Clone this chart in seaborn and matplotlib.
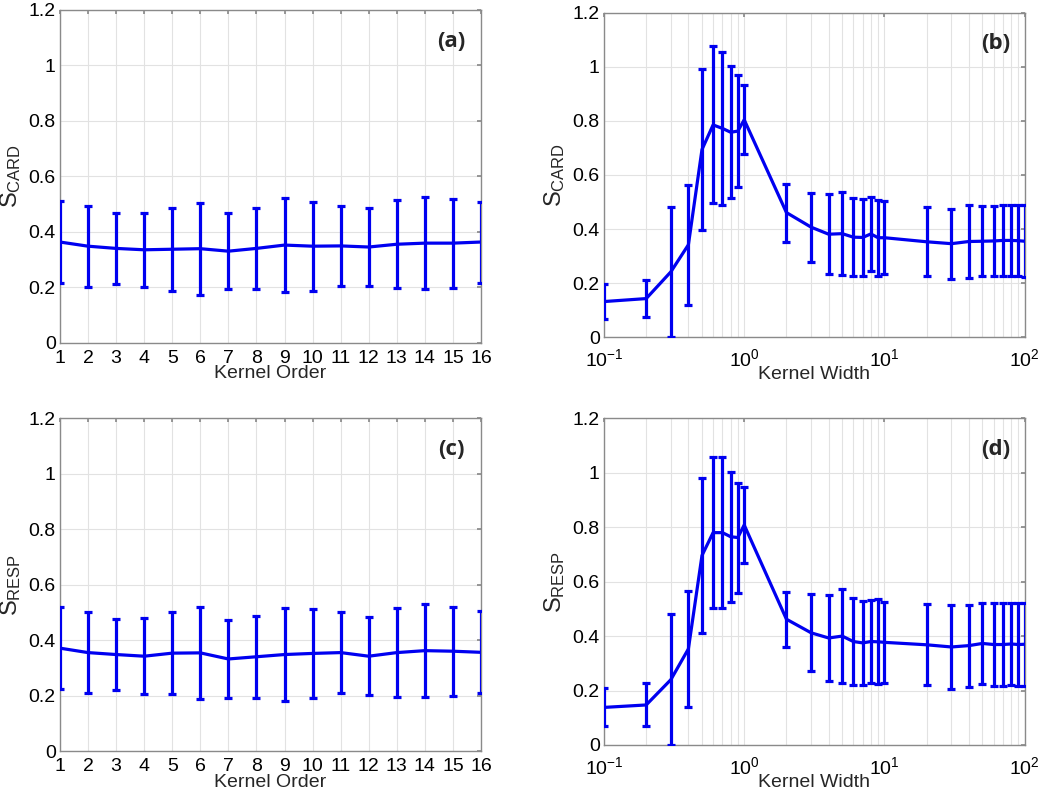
import numpy as np
import pandas as pd
import seaborn as sns
import matplotlib.pyplot as plt
from matplotlib.ticker import FuncFormatter, LogLocator, NullFormatter

# datos: orden del kernel (paneles a, c)
orden = list(range(1, 17))
card_orden_media = [0.363, 0.348, 0.340, 0.335, 0.337, 0.339, 0.330, 0.340,
                    0.352, 0.348, 0.349, 0.345, 0.355, 0.359, 0.359, 0.363]
card_orden_std = [0.148, 0.146, 0.128, 0.134, 0.149, 0.166, 0.138, 0.147,
                  0.168, 0.160, 0.144, 0.140, 0.159, 0.165, 0.160, 0.146]
resp_orden_media = [0.371, 0.355, 0.348, 0.342, 0.353, 0.354, 0.332, 0.340,
                    0.348, 0.352, 0.355, 0.342, 0.355, 0.362, 0.360, 0.356]
resp_orden_std = [0.149, 0.145, 0.128, 0.137, 0.149, 0.165, 0.139, 0.148,
                  0.168, 0.160, 0.145, 0.141, 0.160, 0.167, 0.160, 0.148]

# datos: ancho del kernel (paneles b, d)
ancho = [0.1, 0.2, 0.3, 0.4, 0.5, 0.6, 0.7, 0.8, 0.9, 1,
         2, 3, 4, 5, 6, 7, 8, 9, 10,
         20, 30, 40, 50, 60, 70, 80, 90, 100]
card_ancho_media = [0.132, 0.143, 0.242, 0.342, 0.694, 0.785, 0.772, 0.758, 0.762, 0.804,
                    0.461, 0.407, 0.381, 0.383, 0.370, 0.369, 0.382, 0.368, 0.368,
                    0.353, 0.346, 0.354, 0.355, 0.356, 0.358, 0.358, 0.357, 0.355]
card_ancho_std = [0.065, 0.068, 0.240, 0.222, 0.298, 0.290, 0.284, 0.243, 0.207, 0.127,
                  0.107, 0.127, 0.148, 0.153, 0.143, 0.141, 0.138, 0.140, 0.134,
                  0.127, 0.130, 0.134, 0.130, 0.130, 0.132, 0.132, 0.131, 0.133]
resp_ancho_media = [0.138, 0.147, 0.240, 0.353, 0.696, 0.780, 0.780, 0.765, 0.762, 0.808,
                    0.462, 0.412, 0.393, 0.400, 0.380, 0.375, 0.380, 0.379, 0.377,
                    0.368, 0.360, 0.365, 0.373, 0.369, 0.369, 0.371, 0.369, 0.370]
resp_ancho_std = [0.070, 0.079, 0.240, 0.212, 0.286, 0.278, 0.278, 0.239, 0.202, 0.141,
                  0.101, 0.142, 0.157, 0.172, 0.161, 0.155, 0.154, 0.156, 0.149,
                  0.149, 0.153, 0.151, 0.149, 0.151, 0.151, 0.152, 0.152, 0.152]

sns.set_theme(style="whitegrid")
plt.rcParams['font.family'] = ['Liberation Sans', 'DejaVu Sans']
plt.rcParams['mathtext.default'] = 'regular'

AZUL = '#0000f0'
fig = plt.figure(figsize=(10.5, 7.96), dpi=100)

paneles = [
    # (pos, x, media, std, ylabel, etiqueta, log, xlabel)
    ([0.0571, 0.5695, 0.401, 0.418], orden, card_orden_media, card_orden_std,
     r'$S_{CARD}$', '(a)', False, 'Kernel Order'),
    ([0.5752, 0.5763, 0.4007, 0.4078], ancho, card_ancho_media, card_ancho_std,
     r'$S_{CARD}$', '(b)', True, 'Kernel Width'),
    ([0.0571, 0.0565, 0.401, 0.418], orden, resp_orden_media, resp_orden_std,
     r'$S_{RESP}$', '(c)', False, 'Kernel Order'),
    ([0.5752, 0.0641, 0.4007, 0.4104], ancho, resp_ancho_media, resp_ancho_std,
     r'$S_{RESP}$', '(d)', True, 'Kernel Width'),
]

for pos, x, media, std, ylab, etiqueta, es_log, xlab in paneles:
    ax = fig.add_axes(pos)
    df = pd.DataFrame({"x": x, "media": media, "std": std})

    ax.errorbar(df["x"], df["media"], yerr=df["std"], fmt='none', ecolor=AZUL,
                elinewidth=2.3, capsize=3.2, capthick=2.3, zorder=3)
    sns.lineplot(data=df, x="x", y="media", ax=ax, color=AZUL, linewidth=2.3,
                 zorder=4)

    ax.set_ylim(0, 1.2)
    ax.set_yticks(np.arange(0, 1.21, 0.2))
    ax.yaxis.set_major_formatter(FuncFormatter(lambda v, p: f"{v:g}"))
    if es_log:
        ax.set_xscale('log')
        ax.set_xlim(0.1, 100)
        ax.xaxis.set_minor_locator(LogLocator(base=10, subs=np.arange(2, 10)))
        ax.xaxis.set_minor_formatter(NullFormatter())
        ax.grid(True, which='minor', axis='x', color='#e2e2e2', linewidth=0.8)
    else:
        ax.set_xlim(1, 16)
        ax.set_xticks(orden)

    ax.grid(True, which='major', color='#e2e2e2', linewidth=0.8)
    ax.set_facecolor('white')
    for s in ax.spines.values():
        s.set_color('#8a8a8a')
        s.set_linewidth(1.0)
    ax.tick_params(axis='both', which='both', direction='in', length=3,
                   color='#8a8a8a', labelsize=14, labelcolor='black',
                   top=True, right=True)
    ax.tick_params(axis='x', which='minor', length=0)
    ax.tick_params(axis='x', which='major', pad=8 if es_log else 5)
    ax.tick_params(axis='y', which='major', pad=3)

    ax.set_xlabel(xlab, fontsize=14, labelpad=-3 if es_log else -1)
    ax.set_ylabel(ylab, fontsize=17, labelpad=4)
    ax.text(0.93, 0.905, etiqueta, transform=ax.transAxes, ha='center',
            va='center', fontsize=16, fontweight='bold',
            family=['Open Sans', 'DejaVu Sans'])

fig.savefig("out.png", dpi=100)
